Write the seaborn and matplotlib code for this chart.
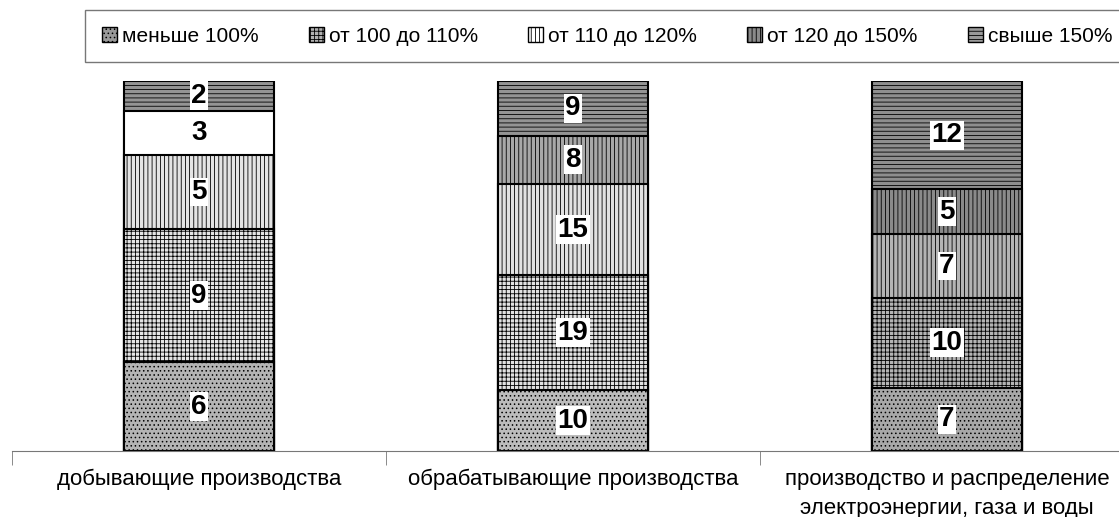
import numpy as np
import pandas as pd
import seaborn as sns
import matplotlib.pyplot as plt
from matplotlib.patches import Patch

# data
categories = ["добывающие производства", "обрабатывающие производства",
              "производство и распределение\nэлектроэнергии, газа и воды"]
groups = ["меньше 100%", "от 100 до 110%", "от 110 до 120%", "от 120 до 150%", "свыше 150%"]
below_100 = [6, 10, 7]
from_100_110 = [9, 19, 10]
from_110_120 = [5, 15, 7]
from_120_150 = [3, 8, 5]
above_150 = [2, 9, 12]

# look of each segment (column by column, as in the source)
seg_colors = [
    ["#b4b4b4", "#bcbcbc", "#a8a8a8"],
    ["#e4e4e4", "#e2e2e2", "#b4b4b4"],
    ["#e4e4e4", "#e2e2e2", "#b4b4b4"],
    ["#ffffff", "#a8a8a8", "#8a8a8a"],
    ["#949494", "#949494", "#8e8e8e"],
]
seg_hatch = [
    ["....", "....", "...."],
    ["++++", "++++", "++++"],
    ["||||", "||||", "||||"],
    ["", "||||", "||||"],
    ["----", "----", "----"],
]
leg_colors = ["#9a9a9a", "#b0b0b0", "#ffffff", "#8a8a8a", "#9a9a9a"]
leg_hatch = ["....", "++++", "||||", "||||", "----"]

plt.rcParams['font.family'] = ['Liberation Sans', 'DejaVu Sans']
plt.rcParams['hatch.linewidth'] = 0.6

series = [below_100, from_100_110, from_110_120, from_120_150, above_150]
df = pd.DataFrame(series, index=groups, columns=categories).T
pct = df.div(df.sum(axis=1), axis=0) * 100
cum = pct.cumsum(axis=1)

fig = plt.figure(figsize=(11.19, 5.17), dpi=100)
ax = fig.add_axes([12 / 1119, 1 - 451 / 517, 1122 / 1119, 370 / 517])

# draw cumulative bars from the top layer down
for i in range(len(groups) - 1, -1, -1):
    d = pd.DataFrame({"cat": categories, "val": cum.iloc[:, i].values})
    sns.barplot(data=d, x="cat", y="val", color="white", width=0.4,
                edgecolor="black", linewidth=1.5, ax=ax, errorbar=None)
    for j, p in enumerate(ax.containers[-1]):
        p.set_facecolor(seg_colors[i][j])
        p.set_hatch(seg_hatch[i][j])
        if hasattr(p, "set_hatchcolor"):
            p.set_hatchcolor("#6e6e6e")

# value labels
for i in range(len(groups)):
    for j in range(len(categories)):
        y = cum.iloc[j, i] - pct.iloc[j, i] / 2
        ax.text(j, y, str(series[i][j]), ha="center", va="center",
                fontsize=20, fontweight="bold",
                bbox=dict(facecolor="white", edgecolor="none", pad=1))

ax.set_xlim(-0.5, 2.5)
ax.set_ylim(0, 100)
ax.set_xlabel("")
ax.set_ylabel("")
ax.set_yticks([])
for s in ["top", "right", "left"]:
    ax.spines[s].set_visible(False)
ax.spines["bottom"].set_color("#777777")
ax.set_xticks([0, 1, 2])
ax.set_xticklabels(categories, fontsize=16, linespacing=1.5)
ax.tick_params(axis="x", which="major", length=0, pad=13)
ax.set_xticks([-0.5, 0.5, 1.5, 2.5], minor=True)
ax.tick_params(axis="x", which="minor", length=10, color="#777777")

handles = [Patch(facecolor=c, edgecolor="black", hatch=h) for c, h in zip(leg_colors, leg_hatch)]
leg = fig.legend(handles, groups, loc="upper left", bbox_to_anchor=(85 / 1119, 1 - 10 / 517),
                 ncol=5, fontsize=15, frameon=True, fancybox=False,
                 handlelength=0.72, handleheight=0.72, handletextpad=0.25,
                 columnspacing=2.4, borderpad=0.8, borderaxespad=0)
leg.get_frame().set_edgecolor("#555555")
leg.get_frame().set_linewidth(1)

fig.savefig("out.png", dpi=100)
